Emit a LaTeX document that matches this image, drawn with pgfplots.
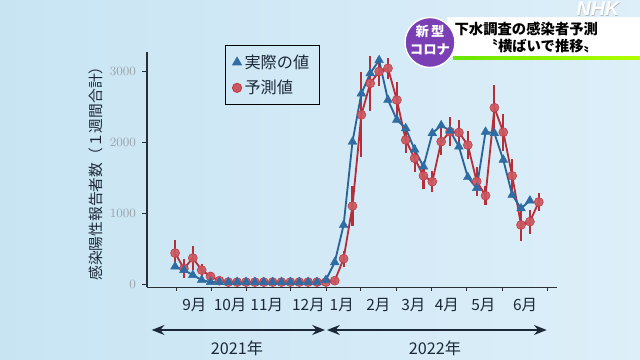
\documentclass[border=0pt]{standalone}
\usepackage{pgfplots}
\pgfplotsset{compat=1.18}
\usepackage{pgfplotstable}
\usepackage{fontspec}
\setmainfont{Noto Sans CJK JP}
\newfontfamily\latin{Liberation Sans}
\usetikzlibrary{arrows.meta}

\definecolor{bblue}{HTML}{2F6CA3}
\definecolor{bline}{HTML}{2A6398}
\definecolor{rred}{HTML}{C23A44}
\definecolor{rline}{HTML}{B3303B}
\definecolor{bgL}{HTML}{C8E4F3}
\definecolor{bgR}{HTML}{DDEFF9}
\definecolor{axisc}{HTML}{2A2F36}
\definecolor{tickgray}{HTML}{9AA3AA}
\definecolor{navy}{HTML}{1C2838}
\definecolor{purp}{HTML}{7A3EB5}

\pgfplotstableread{
k v
0 250
1 200
2 130
3 60
4 30
5 30
6 30
7 30
8 30
9 30
10 30
11 30
12 30
13 30
14 30
15 30
16 30
17 60
18 310
19 836
20 2010
21 2690
22 2975
23 3160
24 2600
25 2320
26 2200
27 1900
28 1660
29 2130
30 2240
31 2165
32 1940
33 1510
34 1355
35 2150
36 2130
37 1755
38 1260
39 1070
40 1180
}\actual

\pgfplotstableread{
k v e
0 440 180
1 220 130
2 370 170
3 200 90
4 110 60
5 50 30
6 30 10
7 30 10
8 30 10
9 30 10
10 30 10
11 30 10
12 30 10
13 30 10
14 30 10
15 30 10
16 30 10
17 30 20
18 50 40
19 360 110
20 1104 280
21 2390 600
22 2834 390
23 3000 200
24 3046 150
25 2599 260
26 2035 190
27 1777 190
28 1530 180
29 1447 150
30 2011 190
31 2152 200
32 2140 170
33 1964 200
34 1450 200
35 1250 130
36 2490 320
37 2145 260
38 1530 230
39 836 230
40 883 170
41 1160 130
}\pred

\begin{document}
\begin{tikzpicture}[x=0.025cm,y=0.025cm]
\useasboundingbox (0,0) rectangle (640,360);
\shade[left color=bgL, right color=bgR] (0,0) rectangle (640,360);

\begin{axis}[
  at={(3.675cm,1.8225cm)}, anchor=south west,
  scale only axis, width=10.25cm, height=5.865cm,
  xmin=-3.16, xmax=43.07, ymin=-40, ymax=3270,
  axis x line*=bottom, axis y line*=left,
  axis line style={draw=axisc, line width=0.8pt},
  tick align=outside,
  major tick length=0.12cm, minor tick length=0.1cm,
  ytick={0,1000,2000,3000},
  /pgf/number format/1000 sep={},
  scaled y ticks=false,
  yticklabel style={text=tickgray, font=\fontsize{9}{10}\selectfont, xshift=-1pt},
  ytick style={draw=axisc, line width=0.7pt},
  xtick={2.17,6.2,10.34,15.03,18.79,22.92,26.87,30.63,34.76,39.46},
  xticklabels={9月,10月,11月,12月,1月,2月,3月,4月,5月,6月},
  major x tick style={draw=none},
  minor xtick={0.19,4.14,8.08,13.04,17.02,20.94,24.92,28.86,32.89,36.9,42.02},
  minor x tick style={draw=axisc, line width=0.7pt},
  xticklabel style={text=navy, font=\fontsize{11}{12}\selectfont, yshift=-1pt},
  legend style={at={(0.19,1.032)}, anchor=north west, draw=black, fill=none,
    line width=0.6pt, font=\fontsize{11.5}{13}\selectfont, text=navy,
    inner xsep=5pt, inner ysep=4.5pt, row sep=3pt},
  legend cell align=left,
  clip=false,
]
\addlegendimage{only marks, mark=triangle*, mark size=3.6pt, color=bblue}
\addlegendentry{実際の値}
\addlegendimage{only marks, mark=*, mark size=3.3pt, draw=rred, fill=rred!85!white}
\addlegendentry{予測値}

\addplot[forget plot, rline, line width=1.3pt, mark=*, mark size=3.2pt,
  mark options={fill=rred!85!white, draw=rred, fill opacity=0.92, line width=0.4pt},
  error bars/.cd, y dir=both, y explicit, error mark=none,
  error bar style={line width=1.5pt, rline}]
  table[x=k, y=v, y error=e] {\pred};

\addplot[forget plot, bline, line width=1.3pt, mark=triangle*, mark size=3.6pt,
  mark options={fill=bblue, draw=bblue, line width=0.3pt}]
  table[x=k, y=v] {\actual};
\end{axis}

% y label
\node[rotate=90, text=navy, font=\fontsize{10.5}{12}\selectfont] at (96,190) {感染陽性報告者数（１週間合計）};

% year arrows
\draw[{Stealth[length=9pt,width=7pt]}-{Stealth[length=9pt,width=7pt]}, line width=2pt, draw=navy] (151.7,30) -- (325,30);
\draw[{Stealth[length=9pt,width=7pt]}-{Stealth[length=9pt,width=7pt]}, line width=2pt, draw=navy] (327,30) -- (546.7,30);
\node[text=navy, font=\fontsize{11.5}{13}\selectfont] at (237,12) {2021年};
\node[text=navy, font=\fontsize{11.5}{13}\selectfont] at (435,12) {2022年};

% banner
\fill[white] (446.7,303.3) rectangle (640,343.3);
\shade[left color=green!55!yellow!90!black, right color=yellow!70!green] (453,300) rectangle (640,303.3);
\node[anchor=east, font=\bfseries\fontsize{10.2}{12}\selectfont, text=black] at (603,331) {下水調査の感染者予測};
\node[anchor=east, font=\bfseries\fontsize{10.2}{12}\selectfont, text=black] at (603,313.5) {〝横ばいで推移〟};
\fill[purp, draw=white, line width=1pt] (430,317.5) circle (25);
\node[text=white, font=\bfseries\fontsize{9.5}{11}\selectfont] at (430,328.3) {新\,型};
\node[text=white, font=\bfseries\fontsize{9.5}{11}\selectfont] at (430,310) {コロナ};

% logo
\node[inner sep=0pt, text=gray!55, font=\latin\bfseries\itshape\fontsize{14}{15}\selectfont] at (598.6,350.4) {NHK};
\node[inner sep=0pt, text=white, font=\latin\bfseries\itshape\fontsize{14}{15}\selectfont] at (598,351) {NHK};
\end{tikzpicture}
\end{document}
